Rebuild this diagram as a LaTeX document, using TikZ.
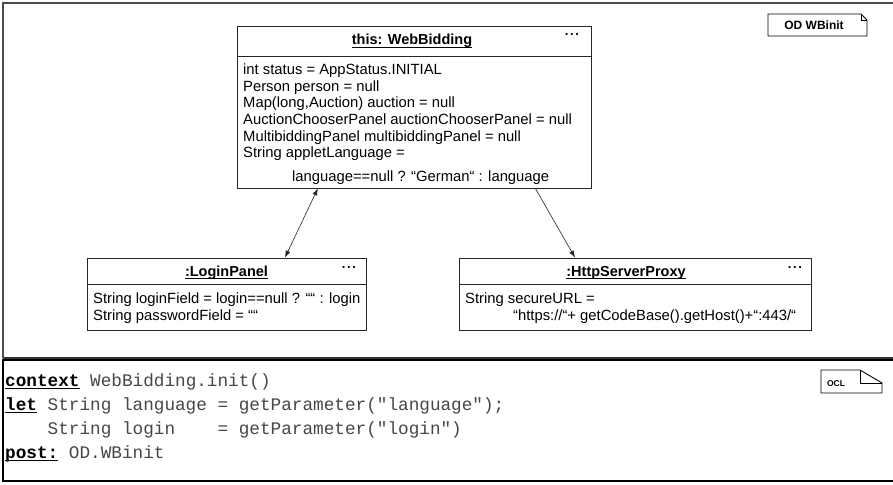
\documentclass[tikz,border=0pt]{standalone}
\usepackage{fontspec}
\setmainfont{Liberation Sans}
\setmonofont{Liberation Mono}
\usetikzlibrary{calc,arrows.meta}
\newcommand\ulbox[2]{\setbox0\hbox{#2}\rlap{\rule[#1]{\wd0}{0.9pt}}\box0}
\newcommand\kwd[1]{\textcolor{black}{\ulbox{-2.6pt}{\bfseries #1}}}
\begin{document}
\begin{tikzpicture}[x=1pt,y=-1pt,
  objbox/.style={draw=black!85, line width=0.8pt, fill=white, inner sep=0pt},
  objtitle/.style={font=\fontsize{14.5}{16}\selectfont\bfseries, inner sep=0pt, anchor=base},
  attr/.style={font=\fontsize{14.8}{16}\selectfont, inner sep=0pt, anchor=base west},
  dots/.style={font=\fontsize{13}{13}\selectfont\bfseries, inner sep=0pt, anchor=base},
  link/.style={line width=0.6pt, draw=black!85},
  tipend/.style={-{Latex[length=7pt,width=5pt]}},
  tipboth/.style={{Latex[length=7pt,width=5pt]}-{Latex[length=7pt,width=5pt]}},
  code/.style={font=\fontsize{17.7}{20}\selectfont\ttfamily, text=black!72, inner sep=0pt, anchor=base west},
  tagtext/.style={font=\fontsize{12}{14}\selectfont\bfseries, inner sep=0pt},
]
\useasboundingbox (0,0) rectangle (893,484);
\fill[white] (0,0) rectangle (893,484);

% frames
\draw[line width=1.4pt, draw=black!70] (3,358) -- (3,3) -- (893,3);
\draw[line width=1.4pt, draw=black!80] (3,358) -- (893,358);
\draw[line width=1.8pt, draw=black] (893,360) -- (3,360) -- (3,481) -- (893,481);

% OD tag
\node[tagtext] (odtag) at (814,25) {OD WBinit};
\draw[line width=0.8pt] (768,14) -- (861,14) -- (867,20) -- (867,36) -- (768,36) -- cycle;
\draw[line width=0.5pt] (861,14) -- (861,20) -- (867,20);

% WebBidding object
\node[objbox, minimum width=354pt, minimum height=162pt] (wb) at (414,107) {};
\draw[line width=0.8pt, draw=black!85] (wb.west |- 0,56) -- (wb.east |- 0,56);
\node[objtitle] (wbt) at (412,45) {\ulbox{-2.8pt}{this: WebBidding}};
\node[dots] (wbd) at (572,36) {.\hspace{1.6pt}.\hspace{1.6pt}.};
\node[attr] (wa1) at (243,75) {int status = AppStatus.INITIAL};
\node[attr] (wa2) at (243,91.5) {Person person = null};
\node[attr] (wa3) at (243,108) {Map(long,Auction) auction = null};
\node[attr] (wa4) at (243,124.5) {AuctionChooserPanel auctionChooserPanel = null};
\node[attr] (wa5) at (243,141) {MultibiddingPanel multibiddingPanel = null};
\node[attr] (wa6) at (243,157.5) {String appletLanguage =};
\node[attr] (wa7) at (292,181) {language==null ? “German“ : language};

% LoginPanel object
\node[objbox, minimum width=279pt, minimum height=72pt] (lp) at (226.5,294) {};
\draw[line width=0.8pt, draw=black!85] (lp.west |- 0,284) -- (lp.east |- 0,284);
\node[objtitle] (lpt) at (226.5,276) {\ulbox{-2.8pt}{:LoginPanel}};
\node[dots] (lpd) at (349,268) {.\hspace{1.6pt}.\hspace{1.6pt}.};
\node[attr] (la1) at (93,303) {String loginField = login==null ? ““ : login};
\node[attr] (la2) at (93,320) {String passwordField = ““};

% HttpServerProxy object
\node[objbox, minimum width=352pt, minimum height=72pt] (hp) at (635,294) {};
\draw[line width=0.8pt, draw=black!85] (hp.west |- 0,284) -- (hp.east |- 0,284);
\node[objtitle] (hpt) at (626,276) {\ulbox{-2.8pt}{:HttpServerProxy}};
\node[dots] (hpd) at (795,268) {.\hspace{1.6pt}.\hspace{1.6pt}.};
\node[attr] (ha1) at (465,303) {String secureURL =};
\node[attr] (ha2) at (513,320) {“https://“+ getCodeBase().getHost()+“:443/“};

% links
\draw[link, tipboth] ($(wb.south west)!0.229!(wb.south east)$) -- ($(lp.north west)!0.709!(lp.north east)$);
\draw[link, tipend] ($(wb.south west)!0.842!(wb.south east)$) -- ($(hp.north west)!0.33!(hp.north east)$);

% OCL tag
\node[font=\fontsize{8.5}{10}\selectfont\bfseries, inner sep=0pt] (ocltag) at (836,384) {OCL};
\draw[line width=0.9pt] (821,370) -- (860,370) -- (882,383) -- (882,393) -- (821,393) -- cycle;
\draw[line width=0.9pt] (860,370) -- (860,383) -- (882,383);

% OCL code
\node[code] (c1) at (5,386) {\kwd{context} WebBidding.init()};
\node[code] (c2) at (5,410) {\kwd{let} String language = getParameter("language");};
\node[code] (c3) at (5,434) {\ \ \ \ String login\ \ \ \ = getParameter("login")};
\node[code] (c4) at (5,458) {\kwd{post:} OD.WBinit};
\end{tikzpicture}
\end{document}
